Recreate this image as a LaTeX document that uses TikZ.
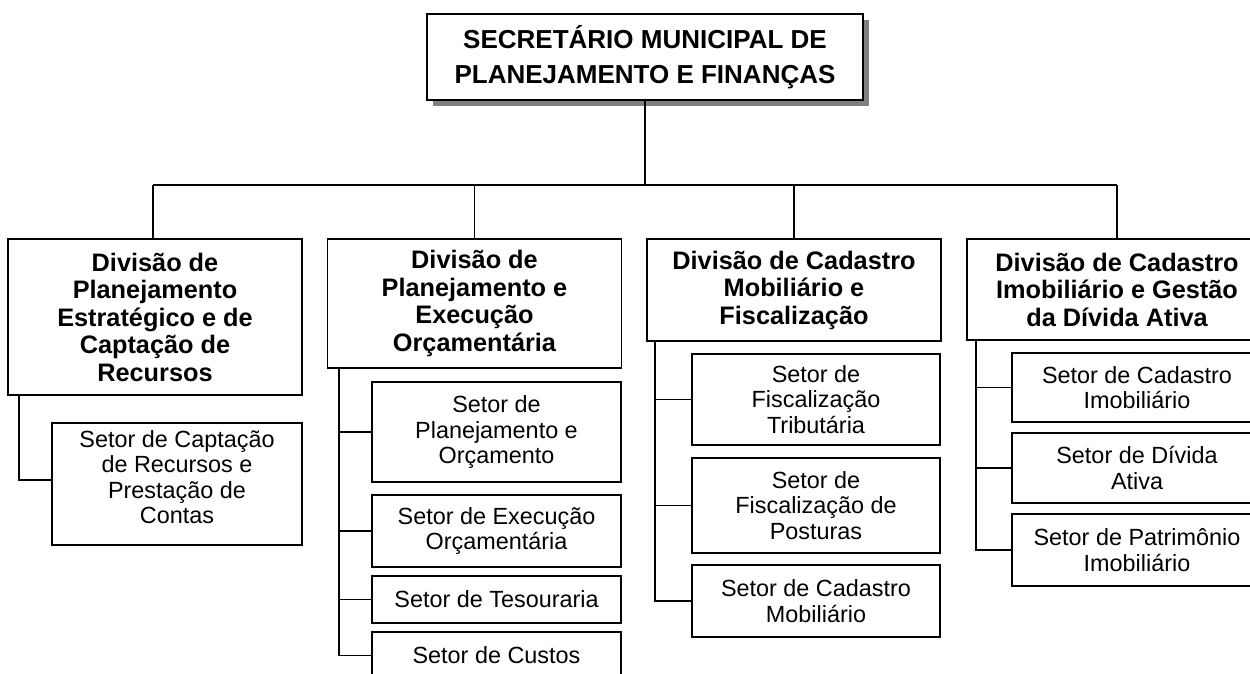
\documentclass[tikz,border=0pt]{standalone}
\usepackage{fontspec}
\setmainfont{Liberation Sans}
\usetikzlibrary{calc}
\begin{document}
\begin{tikzpicture}[x=1pt,y=-1pt,
  box/.style={draw=black,line width=1.6pt,fill=white,rectangle,inner sep=0pt,align=center},
  divbox/.style={box,font=\fontsize{25.3}{27.5}\selectfont\bfseries,minimum width=294pt},
  setfont/.style={font=\fontsize{23.4}{25.5}\selectfont,align=center,inner sep=0pt},
  setbox/.style={box,setfont,minimum width=250pt},
  link/.style={draw=black,line width=1.6pt}]
\clip (0,0) rectangle (1250,673);
\fill[white] (0,0) rectangle (1250,673);
% top box with shadow
\fill[gray] (433,20) rectangle (869,106);
\node[box,font=\fontsize{26}{35}\selectfont\bfseries,minimum width=436pt,minimum height=86pt] (top) at (645,57)
  {SECRETÁRIO MUNICIPAL DE\\PLANEJAMENTO E FINANÇAS};
% divisions
\node[divbox,minimum height=156pt] (d1) at (155,317) {Divisão de\\Planejamento\\Estratégico e de\\Captação de\\Recursos};
\node[divbox,minimum height=129pt] (d2) at (474.5,303.5) {Divisão de\\Planejamento e\\Execução\\Orçamentária};
\node[divbox,minimum height=102pt] (d3) at (794,290) {Divisão de Cadastro\\Mobiliário e\\Fiscalização};
\node[divbox,minimum height=101pt,minimum width=300pt] (d4) at (1117,289.5) {Divisão de Cadastro\\Imobiliário e Gestão\\da Dívida Ativa};
% bus
\coordinate (busL) at (153,185);
\coordinate (busR) at (1117,185);
\draw[link] (top.south) -- (top.south |- busL);
\draw[link] (busL) -- (busR);
\draw[link] (busL) -- (busL |- d1.north);
\draw[link] (d2.north |- busL) -- (d2.north);
\draw[link] (d3.north |- busL) -- (d3.north);
\draw[link] (busR) -- (d4.north);
% sectors col 1
\node[box,minimum width=250pt,minimum height=122pt] (s1) at (177,484) {};
\node[setfont] (s1t) at (177,477) {Setor de Captação\\de Recursos e\\Prestação de\\Contas};
% col 2
\node[setbox,minimum height=100pt,minimum width=249pt] (s2a) at (496.5,432) {Setor de\\Planejamento e\\Orçamento};
\node[setbox,minimum height=72pt,minimum width=249pt] (s2b) at (496.5,531) {Setor de Execução\\Orçamentária};
\node[setbox,minimum height=47pt,minimum width=249pt] (s2c) at (496.5,599.5) {Setor de Tesouraria};
\node[setbox,minimum height=47pt,minimum width=249pt] (s2d) at (496.5,655.5) {Setor de Custos};
% col 3
\node[setbox,minimum height=91pt,minimum width=248pt] (s3a) at (816,399.5) {Setor de\\Fiscalização\\Tributária};
\node[setbox,minimum height=95pt,minimum width=248pt] (s3b) at (816,505.5) {Setor de\\Fiscalização de\\Posturas};
\node[setbox,minimum height=72pt,minimum width=248pt] (s3c) at (816,601) {Setor de Cadastro\\Mobiliário};
% col 4
\node[setbox,minimum height=69pt] (s4a) at (1137,387.5) {Setor de Cadastro\\Imobiliário};
\node[setbox,minimum height=70pt] (s4b) at (1137,468) {Setor de Dívida\\Ativa};
\node[setbox,minimum height=72pt] (s4c) at (1137,550) {Setor de Patrimônio\\Imobiliário};
% branch lines
\coordinate (b1) at ($(d1.south west)+(12,0)$);
\coordinate (b2) at ($(d2.south west)+(12,0)$);
\coordinate (b3) at ($(d3.south west)+(9,0)$);
\coordinate (b4) at ($(d4.south west)+(10,0)$);
\draw[link] (b1) |- ($(s1.west)+(0,-4)$);
\draw[link] (b2) |- (s2a.west) (b2) |- (s2b.west) (b2) |- (s2c.west) (b2) |- (s2d.west);
\draw[link] (b3) |- (s3a.west) (b3) |- (s3b.west) (b3) |- (s3c.west);
\draw[link] (b4) |- (s4a.west) (b4) |- (s4b.west) (b4) |- (s4c.west);
\end{tikzpicture}
\end{document}
